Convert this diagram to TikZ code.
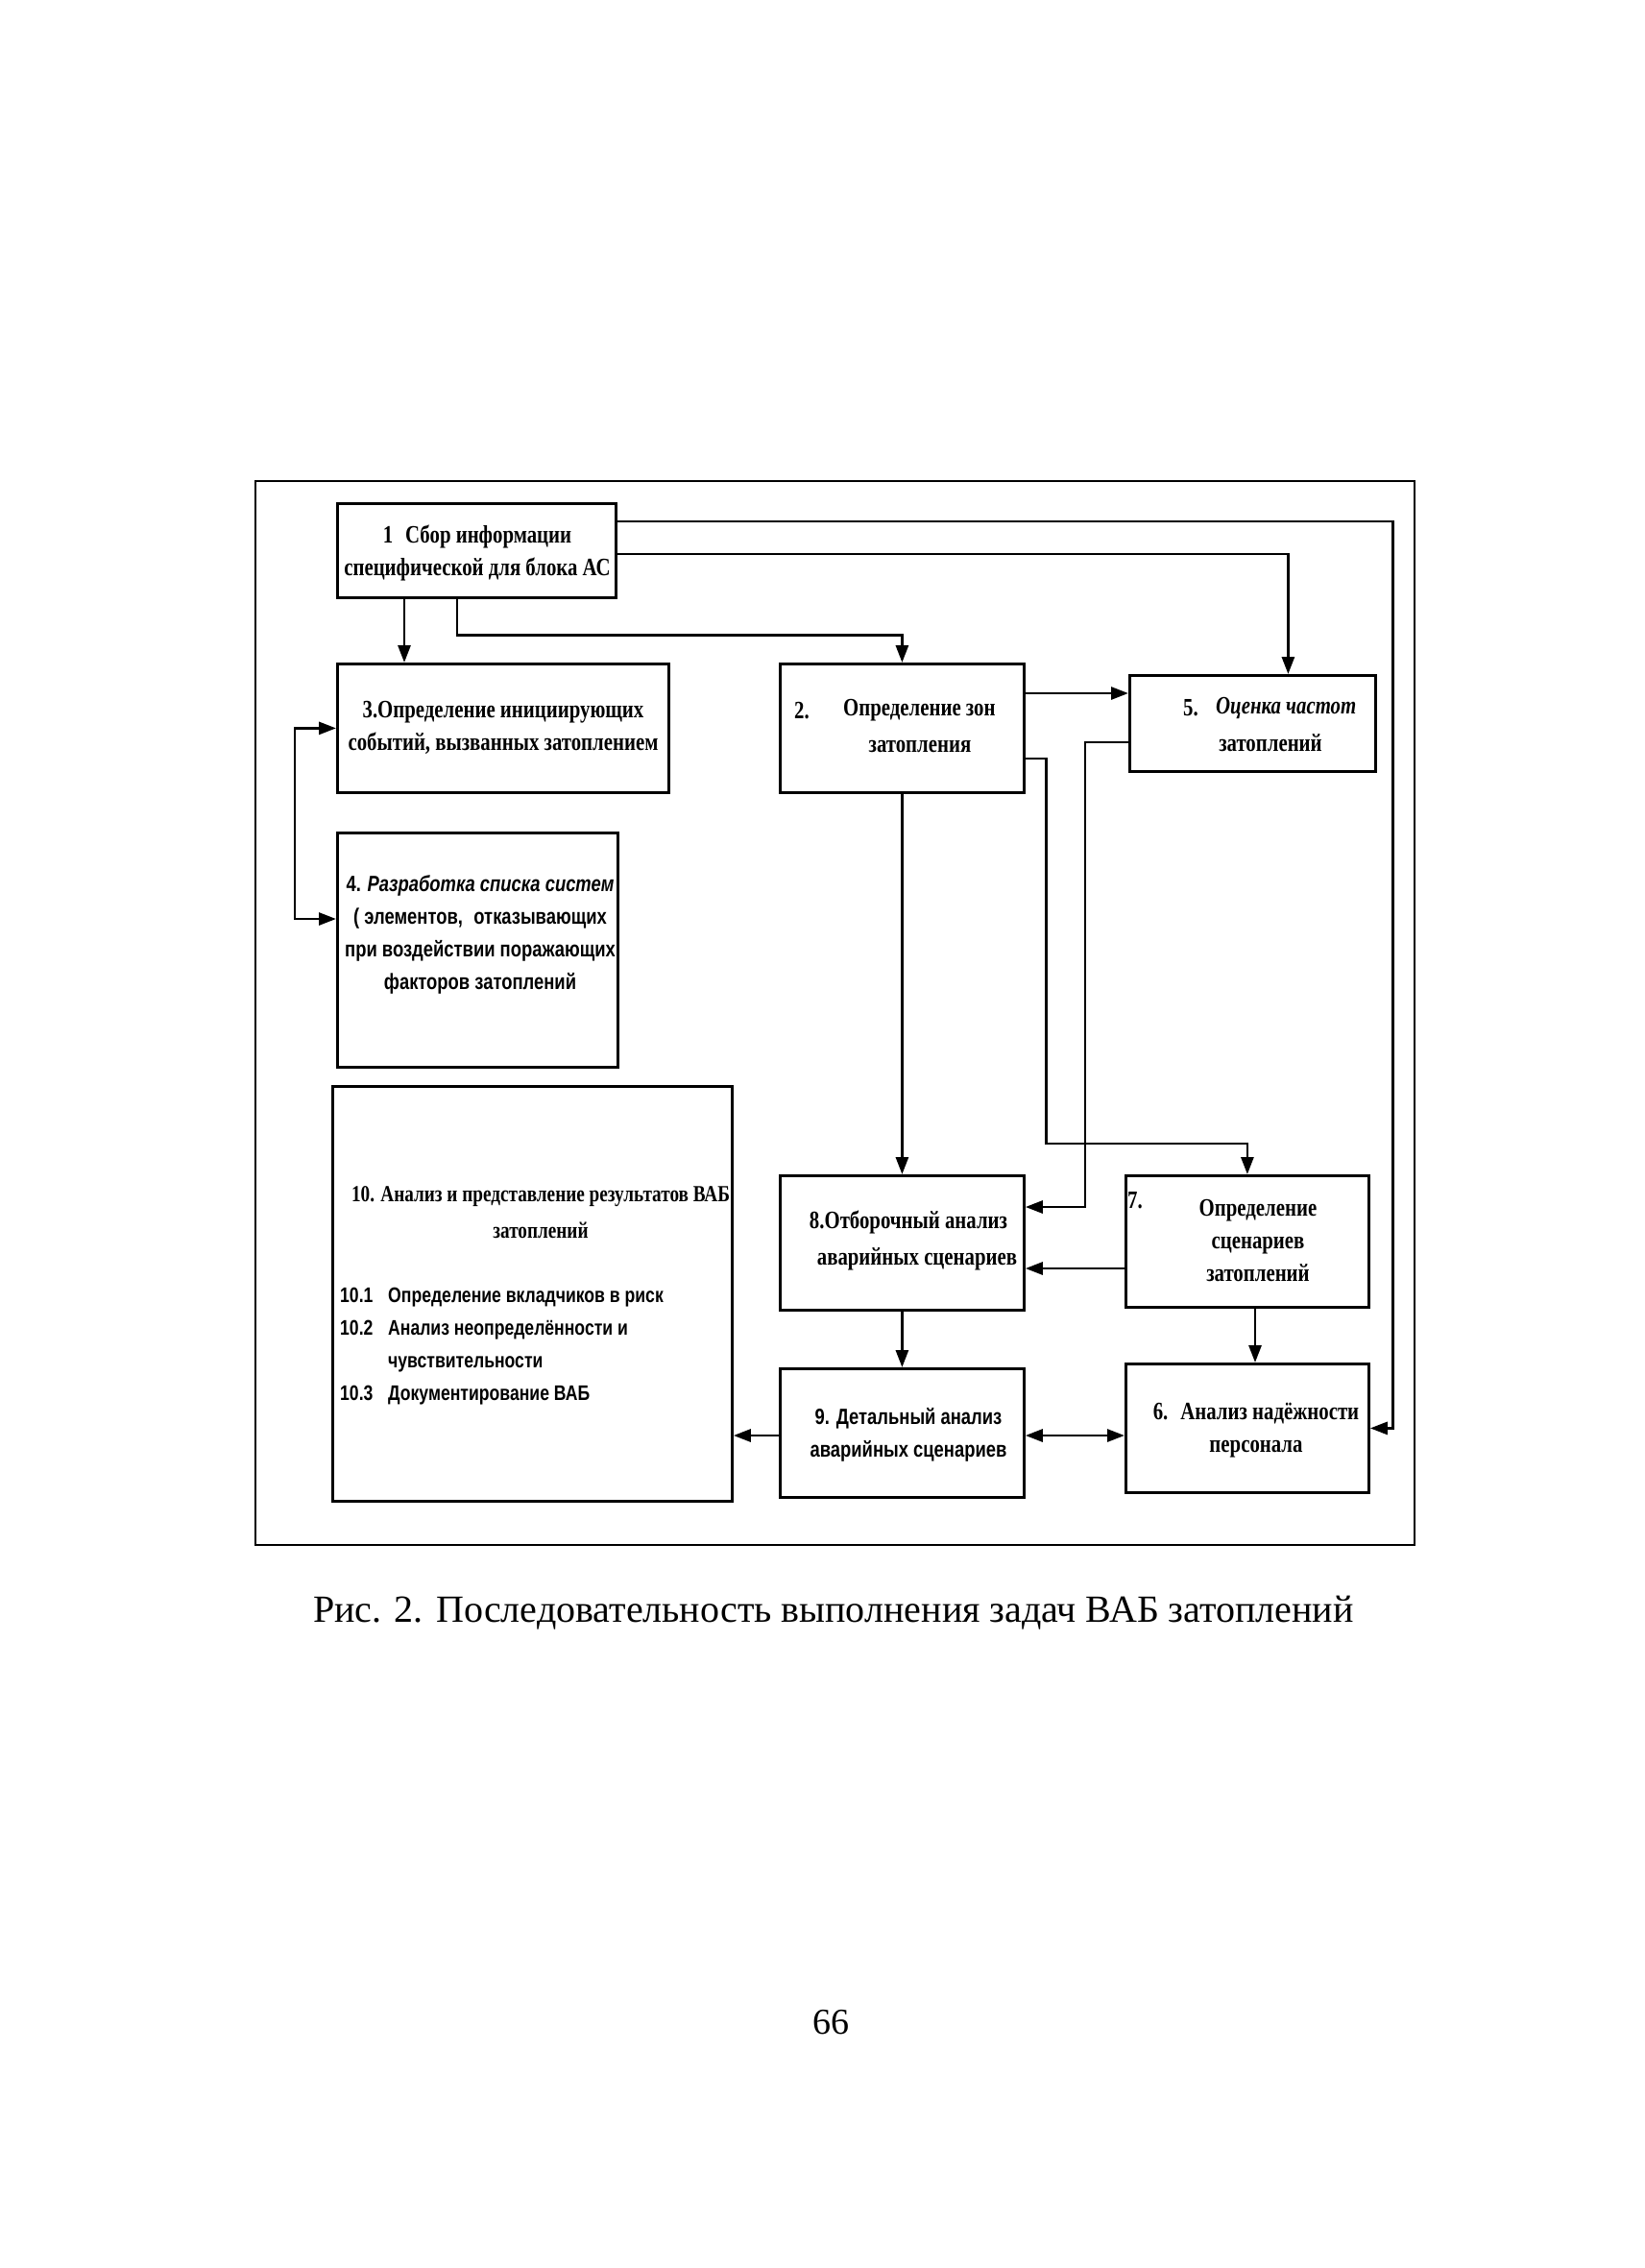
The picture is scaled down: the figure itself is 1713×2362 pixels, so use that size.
\documentclass[tikz,border=0pt]{standalone}
\usepackage{fontspec}
\setmainfont{Liberation Serif}
\newfontfamily\sernar[FakeStretch=0.8]{Liberation Serif}
\newfontfamily\sansnar[FakeStretch=0.8]{Liberation Sans}
\usetikzlibrary{arrows.meta}
\begin{document}
\begin{tikzpicture}[x=1pt,y=-1pt,
  bx/.style n args={2}{draw, line width=2.8pt, rectangle, inner sep=0pt,
     minimum width=#1, minimum height=#2, anchor=north west},
  con/.style={line width=2.8pt, -{Triangle[length=18pt,width=13pt]}},
  dcon/.style={line width=2.8pt, {Triangle[length=18pt,width=13pt]}-{Triangle[length=18pt,width=13pt]}},
  sr/.style={font=\sernar\bfseries\fontsize{26}{34}\selectfont, inner sep=0pt, align=center},
  ss/.style={font=\sansnar\bfseries\fontsize{23}{34}\selectfont, inner sep=0pt, align=center},
  ]
\useasboundingbox (0,0) rectangle (1713,2362);
\fill[white] (0,0) rectangle (1713,2362);
% frame
\node[bx={1207pt}{1108pt}, line width=2.4pt] (frame) at (265,500) {};
% boxes
\node[bx={290pt}{98pt}]  (b1)  at (350,523) {};
\node[bx={345pt}{134pt}] (b3)  at (350,690) {};
\node[bx={254pt}{134pt}] (b2)  at (811,690) {};
\node[bx={256pt}{100pt}] (b5)  at (1175,702) {};
\node[bx={292pt}{244pt}] (b4)  at (350,866) {};
\node[bx={416pt}{432pt}] (b10) at (345,1130) {};
\node[bx={254pt}{140pt}] (b8)  at (811,1223) {};
\node[bx={253pt}{137pt}] (b7)  at (1171,1223) {};
\node[bx={254pt}{134pt}] (b9)  at (811,1424) {};
\node[bx={253pt}{134pt}] (b6)  at (1171,1419) {};
% texts
\node[sr] (t1) at (497,576) {1\enspace Сбор информации\\специфической для блока АС};
\node[sr] (t3) at (524,758) {3.Определение инициирующих\\событий, вызванных затоплением};
\node[sr, anchor=west] (t2a) at (827,740) {2.};
\node[sr, anchor=west] (t2b) at (878,740) {Определение зон};
\node[sr] (t2c) at (958,777) {затопления};
\node[sr, anchor=west] (t5a) at (1232,737) {5.};
\node[sr, anchor=west, font=\sernar\bfseries\itshape\fontsize{26}{34}\selectfont] (t5b) at (1266,737) {Оценка частот};
\node[sr] (t5c) at (1323,774) {затоплений};
\node[ss] (t4) at (500,973) {4. \textit{Разработка списка систем}\\( элементов,\enspace отказывающих\\при воздействии поражающих\\факторов затоплений};
\node[sr, font=\sernar\bfseries\fontsize{24}{38}\selectfont] (t10) at (563,1263) {10. Анализ и представление результатов ВАБ\\затоплений};
\node[ss, align=left, anchor=west, font=\sansnar\bfseries\fontsize{22}{34}\selectfont] (t10l) at (354,1402) {\makebox[50pt][l]{10.1}Определение вкладчиков в риск\\\makebox[50pt][l]{10.2}Анализ неопределённости и\\\hspace*{50pt}чувствительности\\\makebox[50pt][l]{10.3}Документирование ВАБ};
\node[sr] (t8a) at (946,1273) {8.Отборочный анализ};
\node[sr] (t8b) at (955,1311) {аварийных сценариев};
\node[sr, anchor=west] (t7a) at (1174,1250) {7.};
\node[sr] (t7b) at (1310,1292) {Определение\\сценариев\\затоплений};
\node[ss] (t9) at (946,1494) {9. Детальный анализ\\аварийных сценариев};
\node[sr] (t6) at (1308,1490) {6.\enspace Анализ надёжности\\персонала};
% caption and page number
\node[font=\fontsize{40}{46}\selectfont, inner sep=0pt] (cap) at (868,1680) {Рис. 2. Последовательность выполнения задач ВАБ затоплений};
\node[font=\fontsize{38}{46}\selectfont, inner sep=0pt] (pg) at (865,2106) {66};
% connectors
\draw[con] ([xshift=71pt]b1.south west) -- ([xshift=71pt]b3.north west);
\draw[con] ([xshift=126pt]b1.south west) -- ++(0,38) -| (b2.north);
\draw[con] ([yshift=-54pt]b1.north east) -| ([xshift=37pt]b5.north);
\draw[con] ([yshift=-20pt]b1.north east) -- ++(808,0) |- (b6.east);
\coordinate (s5) at ([yshift=-32pt]b2.north east);
\draw[con] (s5) -- (s5 -| b5.west);
\coordinate (s6) at ([yshift=-71pt]b5.north west);
\draw[con] (s6) -- ++(-45,0) |- ([yshift=-34pt]b8.north east);
\draw[con] ([yshift=-100pt]b2.north east) -- ++(22,0) -- ++(0,401) -| (b7.north);
\draw[con] (b2.south) -- (b8.north);
\coordinate (s9) at ([yshift=-98pt]b7.north west);
\draw[con] (s9) -- (s9 -| b8.east);
\draw[con] (b8.south) -- (b9.north);
\draw[con] ([xshift=136pt]b7.south west) -- ([xshift=136pt]b6.north west);
\coordinate (s12) at ([yshift=-71pt]b9.north east);
\draw[dcon] (s12) -- (s12 -| b6.west);
\coordinate (s13) at ([yshift=-71pt]b9.north west);
\draw[con] (s13) -- (s13 -| b10.east);
\draw[dcon] (b3.west) -- ++(-43,0) |- ([yshift=-91pt]b4.north west);
\end{tikzpicture}
\end{document}
